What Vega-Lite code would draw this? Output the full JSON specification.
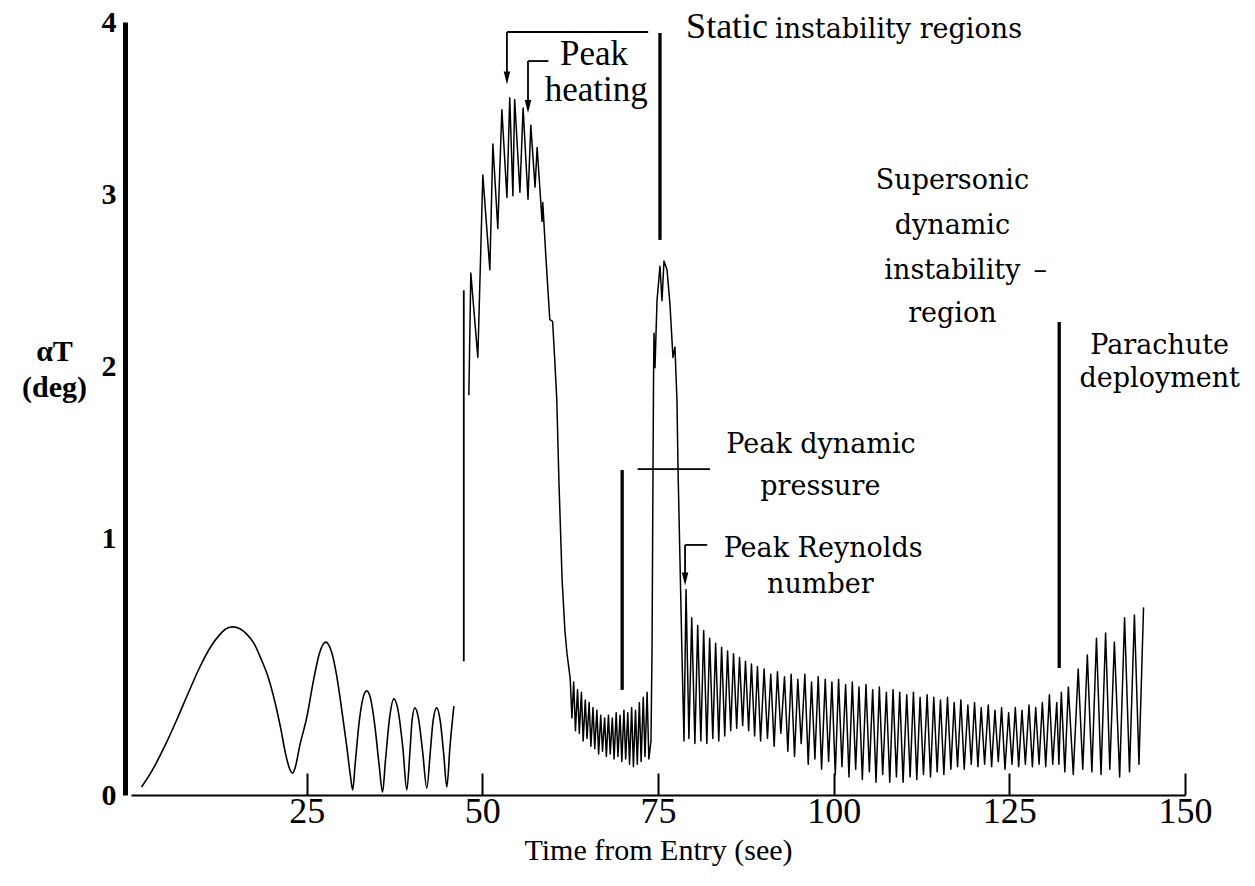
{
  "$schema": "https://vega.github.io/schema/vega-lite/v6.json",
  "width": 1054,
  "height": 773,
  "autosize": {"type": "none"},
  "padding": {"left": 131, "top": 22, "right": 70, "bottom": 91},
  "background": "white",
  "config": {"view": {"stroke": null}, "axis": {"grid": false}},
  "datasets": {
    "curveA": [
      {"t":1.5,"v":0.031},{"t":3.0,"v":0.095},{"t":4.8,"v":0.19},{"t":6.5,"v":0.292},{"t":8.2,"v":0.40},{"t":9.8,"v":0.498},{"t":11.3,"v":0.575},{"t":12.6,"v":0.623},{"t":13.6,"v":0.648},{"t":14.5,"v":0.654},{"t":15.5,"v":0.647},{"t":16.5,"v":0.625},{"t":17.5,"v":0.59},{"t":18.5,"v":0.53},{"t":19.5,"v":0.46},{"t":20.5,"v":0.36},{"t":21.3,"v":0.26},{"t":22.0,"v":0.16},{"t":22.6,"v":0.10},{"t":23.0,"v":0.085},{"t":23.4,"v":0.11},{"t":24.0,"v":0.19},{"t":25.0,"v":0.30},{"t":26.0,"v":0.45},{"t":26.8,"v":0.55},{"t":27.7,"v":0.595},{"t":28.5,"v":0.56},{"t":29.3,"v":0.46},{"t":30.0,"v":0.33},{"t":30.7,"v":0.19},{"t":31.2,"v":0.08},{"t":31.55,"v":0.02},{"t":31.9,"v":0.12},{"t":32.5,"v":0.29},{"t":33.0,"v":0.375},{"t":33.55,"v":0.405},{"t":34.1,"v":0.375},{"t":34.7,"v":0.27},{"t":35.3,"v":0.12},{"t":35.8,"v":0.012},{"t":36.2,"v":0.13},{"t":36.8,"v":0.30},{"t":37.4,"v":0.374},{"t":38.0,"v":0.33},{"t":38.7,"v":0.18},{"t":39.25,"v":0.02},{"t":39.7,"v":0.17},{"t":40.0,"v":0.29},{"t":40.4,"v":0.339},{"t":40.9,"v":0.30},{"t":41.5,"v":0.17},{"t":42.1,"v":0.027},{"t":42.6,"v":0.17},{"t":43.0,"v":0.29},{"t":43.5,"v":0.339},{"t":44.0,"v":0.29},{"t":44.5,"v":0.16},{"t":44.95,"v":0.031},{"t":45.4,"v":0.19},{"t":45.95,"v":0.346}
    ],
    "curveB": [
      {"t":48.08,"v":1.83},{"t":48.36,"v":2.54},{"t":49.36,"v":2.05},{"t":50.07,"v":3.11},{"t":51.07,"v":2.56},{"t":51.5,"v":3.29},{"t":52.2,"v":2.80},{"t":52.78,"v":3.49},{"t":53.5,"v":2.98},{"t":53.9,"v":3.56},{"t":54.35,"v":2.99},{"t":54.6,"v":3.55},{"t":55.35,"v":3.01},{"t":55.8,"v":3.50},{"t":56.5,"v":2.97},{"t":56.9,"v":3.40},{"t":57.5,"v":3.04},{"t":57.8,"v":3.27},{"t":58.5,"v":2.84},{"t":58.6,"v":2.95},{"t":59.05,"v":2.63},{"t":59.6,"v":2.27},{"t":60.0,"v":2.26},{"t":60.3,"v":2.04},{"t":60.6,"v":1.80},{"t":60.9,"v":1.33},{"t":61.35,"v":0.84},{"t":61.75,"v":0.64},{"t":62.05,"v":0.55},{"t":62.5,"v":0.455},
      {"t":62.75,"v":0.30},{"t":63.0,"v":0.44},{"t":63.25,"v":0.25},{"t":63.55,"v":0.41},{"t":63.8,"v":0.24},{"t":64.1,"v":0.40},{"t":64.35,"v":0.21},{"t":64.65,"v":0.37},{"t":64.9,"v":0.22},{"t":65.2,"v":0.36},{"t":65.45,"v":0.19},{"t":65.75,"v":0.34},{"t":66.0,"v":0.18},{"t":66.3,"v":0.33},{"t":66.55,"v":0.16},{"t":66.85,"v":0.31},{"t":67.1,"v":0.17},{"t":67.4,"v":0.30},{"t":67.65,"v":0.15},{"t":67.95,"v":0.31},{"t":68.2,"v":0.16},{"t":68.5,"v":0.30},{"t":68.75,"v":0.14},{"t":69.05,"v":0.32},{"t":69.3,"v":0.15},{"t":69.6,"v":0.31},{"t":69.85,"v":0.13},{"t":70.15,"v":0.33},{"t":70.4,"v":0.14},{"t":70.7,"v":0.32},{"t":70.95,"v":0.12},{"t":71.25,"v":0.34},{"t":71.5,"v":0.11},{"t":71.8,"v":0.33},{"t":72.05,"v":0.12},{"t":72.35,"v":0.36},{"t":72.6,"v":0.13},{"t":72.9,"v":0.38},{"t":73.15,"v":0.15},{"t":73.45,"v":0.40},{"t":73.7,"v":0.14},
      {"t":74.0,"v":0.21},{"t":74.15,"v":0.56},{"t":74.29,"v":1.40},{"t":74.36,"v":1.90},{"t":74.43,"v":2.19},{"t":74.57,"v":1.99},{"t":74.86,"v":2.38},{"t":75.28,"v":2.58},{"t":75.57,"v":2.38},{"t":75.85,"v":2.61},{"t":76.28,"v":2.56},{"t":76.7,"v":2.36},{"t":77.13,"v":2.05},{"t":77.41,"v":2.11},{"t":77.7,"v":1.80},{"t":77.85,"v":1.40},{"t":78.13,"v":0.91},{"t":78.4,"v":0.56},{"t":78.7,"v":0.21},{"t":78.99,"v":0.80},
      {"t":79.4,"v":0.22},{"t":79.8,"v":0.69},{"t":80.25,"v":0.20},{"t":80.65,"v":0.66},{"t":81.1,"v":0.21},{"t":81.5,"v":0.64},{"t":81.95,"v":0.20},{"t":82.35,"v":0.61},{"t":82.8,"v":0.22},{"t":83.2,"v":0.59},{"t":83.65,"v":0.21},{"t":84.05,"v":0.575},{"t":84.5,"v":0.23},{"t":84.9,"v":0.56},{"t":85.35,"v":0.25},{"t":85.75,"v":0.55},{"t":86.2,"v":0.26},{"t":86.6,"v":0.535},{"t":87.05,"v":0.27},{"t":87.45,"v":0.52},{"t":87.9,"v":0.25},{"t":88.3,"v":0.51},{"t":88.75,"v":0.23},{"t":89.15,"v":0.50},{"t":89.6,"v":0.21},
      {"t":90.1,"v":0.49},{"t":90.58,"v":0.22},{"t":91.05,"v":0.47},{"t":91.53,"v":0.19},{"t":92.0,"v":0.48},{"t":92.48,"v":0.24},{"t":93.0,"v":0.46},{"t":93.48,"v":0.17},{"t":93.95,"v":0.47},{"t":94.43,"v":0.15},{"t":94.9,"v":0.45},{"t":95.38,"v":0.20},{"t":95.9,"v":0.47},{"t":96.38,"v":0.12},{"t":96.85,"v":0.44},{"t":97.33,"v":0.14},{"t":97.8,"v":0.46},{"t":98.28,"v":0.10},{"t":98.8,"v":0.45},{"t":99.28,"v":0.13},{"t":99.75,"v":0.44},{"t":100.23,"v":0.08},{"t":100.7,"v":0.45},{"t":101.18,"v":0.11},{"t":101.7,"v":0.43},{"t":102.18,"v":0.07},{"t":102.65,"v":0.44},{"t":103.13,"v":0.10},{"t":103.6,"v":0.42},{"t":104.08,"v":0.06},{"t":104.6,"v":0.43},{"t":105.08,"v":0.09},{"t":105.55,"v":0.41},{"t":106.03,"v":0.05},{"t":106.5,"v":0.42},{"t":106.98,"v":0.08},{"t":107.5,"v":0.40},{"t":107.98,"v":0.05},{"t":108.45,"v":0.41},{"t":108.93,"v":0.07},{"t":109.4,"v":0.40},{"t":109.88,"v":0.05},{"t":110.4,"v":0.39},{"t":110.88,"v":0.07},{"t":111.35,"v":0.40},{"t":111.83,"v":0.06},{"t":112.3,"v":0.38},{"t":112.78,"v":0.08},{"t":113.3,"v":0.39},{"t":113.78,"v":0.07},{"t":114.25,"v":0.38},{"t":114.73,"v":0.09},{"t":115.2,"v":0.37},{"t":115.68,"v":0.08},{"t":116.2,"v":0.38},{"t":116.68,"v":0.10},{"t":117.15,"v":0.36},{"t":117.63,"v":0.11},{"t":118.1,"v":0.37},{"t":118.58,"v":0.10},{"t":119.1,"v":0.35},{"t":119.58,"v":0.12},{"t":120.05,"v":0.36},{"t":120.53,"v":0.11},{"t":121.0,"v":0.34},{"t":121.48,"v":0.12},{"t":122.0,"v":0.35},{"t":122.48,"v":0.11},{"t":122.95,"v":0.33},{"t":123.43,"v":0.13},{"t":123.9,"v":0.34},{"t":124.38,"v":0.10},{"t":124.9,"v":0.32},{"t":125.38,"v":0.12},{"t":125.85,"v":0.34},{"t":126.33,"v":0.11},{"t":126.8,"v":0.33},{"t":127.28,"v":0.12},{"t":127.8,"v":0.35},{"t":128.28,"v":0.11},{"t":128.75,"v":0.34},{"t":129.23,"v":0.12},{"t":129.7,"v":0.36},{"t":130.18,"v":0.11},{"t":130.7,"v":0.39},{"t":131.18,"v":0.12},
      {"t":131.75,"v":0.36},{"t":132.05,"v":0.12},{"t":132.4,"v":0.40},{"t":132.9,"v":0.09},{"t":133.4,"v":0.42},{"t":134.1,"v":0.08},{"t":134.8,"v":0.49},{"t":135.45,"v":0.10},{"t":136.1,"v":0.545},{"t":136.75,"v":0.09},{"t":137.4,"v":0.61},{"t":138.05,"v":0.08},{"t":138.7,"v":0.63},{"t":139.3,"v":0.10},{"t":139.95,"v":0.595},{"t":140.7,"v":0.07},{"t":141.4,"v":0.69},{"t":142.1,"v":0.09},{"t":142.8,"v":0.70},{"t":143.45,"v":0.12},{"t":144.1,"v":0.73}
    ],
    "thinRules": [
      {"t":47.36,"v":2.44,"t2":47.36,"v2":0.52},
      {"t":53.5,"v":3.942,"t2":73.6,"v2":3.942},
      {"t":53.5,"v":3.942,"t2":53.5,"v2":3.674},
      {"t":56.5,"v":3.773,"t2":59.4,"v2":3.773},
      {"t":56.5,"v":3.773,"t2":56.5,"v2":3.512},
      {"t":72.1,"v":1.401,"t2":82.4,"v2":1.401},
      {"t":78.85,"v":0.973,"t2":82.0,"v2":0.973},
      {"t":78.85,"v":0.973,"t2":78.85,"v2":0.84}
    ],
    "thickRules": [
      {"t":75.28,"v":3.936,"t2":75.28,"v2":2.733},
      {"t":69.9,"v":1.395,"t2":69.9,"v2":0.409},
      {"t":132.1,"v":2.256,"t2":132.1,"v2":0.494}
    ],
    "arrows": [
      {"t":53.5,"v":3.674},
      {"t":56.5,"v":3.509},
      {"t":78.85,"v":0.84}
    ],
    "bigCenter": [
      {"t":65.9,"v":3.75,"label":"Peak"},
      {"t":66.2,"v":3.541,"label":"heating"}
    ],
    "bigLeft": [
      {"t":79.0,"v":3.907,"label":"Static"}
    ],
    "normLeft": [
      {"t":91.65,"v":3.907,"label":"instability regions"}
    ],
    "normCenter": [
      {"t":98.2,"v":1.494,"label":"Peak dynamic"},
      {"t":98.1,"v":1.25,"label":"pressure"},
      {"t":98.5,"v":0.926,"label":"Peak Reynolds"},
      {"t":98.1,"v":0.786,"label":"number"},
      {"t":116.9,"v":3.029,"label":"Supersonic"},
      {"t":116.9,"v":2.767,"label":"dynamic"},
      {"t":116.9,"v":2.506,"label":"instability"},
      {"t":116.9,"v":2.256,"label":"region"},
      {"t":129.4,"v":2.506,"label":"–"},
      {"t":146.4,"v":2.07,"label":"Parachute"},
      {"t":146.4,"v":1.878,"label":"deployment"}
    ]
  },
  "encoding": {
    "x": {
      "field": "t", "type": "quantitative",
      "scale": {"domain": [0, 150], "nice": false, "zero": false},
      "axis": {
        "values": [25, 50, 75, 100, 125, 150],
        "domainColor": "black", "domainWidth": 2,
        "tickColor": "black", "tickWidth": 2, "tickSize": -22,
        "labelFont": "Liberation Serif", "labelFontSize": 36, "labelColor": "black",
        "labelPadding": 21, "labelFlush": false,
        "title": "Time from Entry (see)",
        "titleFont": "Liberation Serif", "titleFontSize": 30, "titleFontWeight": "normal",
        "titleColor": "black", "titlePadding": 6
      }
    },
    "y": {
      "field": "v", "type": "quantitative",
      "scale": {"domain": [0, 1, 4], "range": [773, 516, 0], "nice": false, "zero": false},
      "axis": {
        "values": [0, 1, 2, 3, 4],
        "offset": 6,
        "domainColor": "black", "domainWidth": 5,
        "ticks": false,
        "labelFont": "Liberation Serif", "labelFontWeight": "bold", "labelFontSize": 30,
        "labelColor": "black", "labelPadding": 9,
        "title": ["αT", "(deg)"],
        "titleAngle": 0, "titleFont": "Liberation Serif", "titleFontWeight": "bold",
        "titleFontSize": 30, "titleColor": "black", "titleAlign": "center",
        "titleBaseline": "top", "titleLineHeight": 36,
        "titleX": -71, "titleY": 314
      }
    }
  },
  "layer": [
    {"data": {"name": "curveA"}, "mark": {"type": "line", "interpolate": "monotone", "color": "black", "strokeWidth": 1.6}},
    {"data": {"name": "curveB"}, "mark": {"type": "line", "interpolate": "linear", "color": "black", "strokeWidth": 1.5, "strokeJoin": "round"}},
    {"data": {"name": "thinRules"}, "mark": {"type": "rule", "color": "black", "strokeWidth": 1.8},
     "encoding": {"x2": {"field": "t2"}, "y2": {"field": "v2"}}},
    {"data": {"name": "thickRules"}, "mark": {"type": "rule", "color": "black", "strokeWidth": 3.3},
     "encoding": {"x2": {"field": "t2"}, "y2": {"field": "v2"}}},
    {"data": {"name": "arrows"}, "mark": {"type": "point", "shape": "M-0.5,-1L0.5,-1L0,1Z", "filled": true, "color": "black", "size": 169, "opacity": 1}},
    {"data": {"name": "bigCenter"}, "mark": {"type": "text", "font": "Liberation Serif", "fontSize": 35, "align": "center", "baseline": "alphabetic", "color": "black"},
     "encoding": {"text": {"field": "label"}}},
    {"data": {"name": "bigLeft"}, "mark": {"type": "text", "font": "Liberation Serif", "fontSize": 36, "align": "left", "baseline": "alphabetic", "color": "black"},
     "encoding": {"text": {"field": "label"}}},
    {"data": {"name": "normLeft"}, "mark": {"type": "text", "font": "DejaVu Serif", "fontSize": 27, "align": "left", "baseline": "alphabetic", "color": "black"},
     "encoding": {"text": {"field": "label"}}},
    {"data": {"name": "normCenter"}, "mark": {"type": "text", "font": "DejaVu Serif", "fontSize": 27, "align": "center", "baseline": "alphabetic", "color": "black"},
     "encoding": {"text": {"field": "label"}}}
  ]
}
